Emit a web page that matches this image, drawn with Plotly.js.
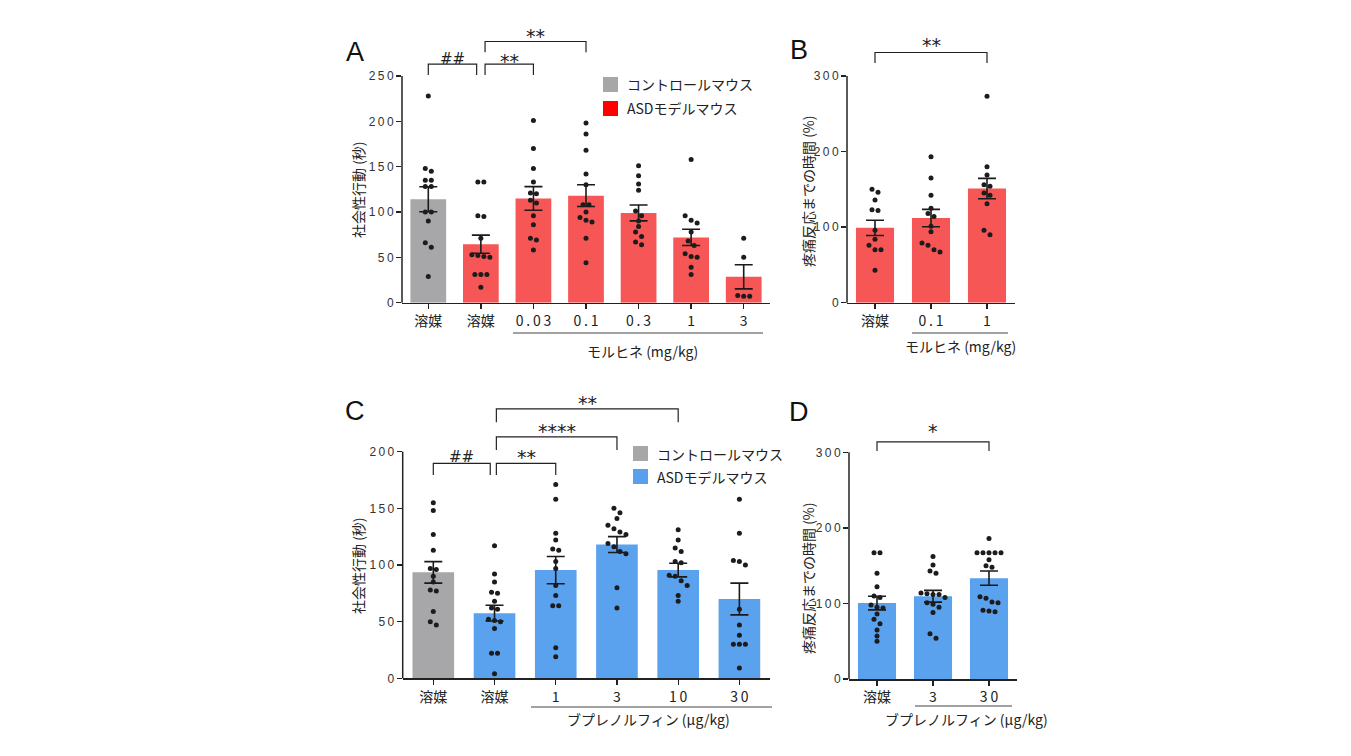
<!DOCTYPE html>
<html><head><meta charset="utf-8">
<script src="https://cdn.plot.ly/plotly-3.0.1.min.js"></script>
<style>body{margin:0;background:#fff}#chart{width:1351px;height:756px}</style>
</head><body><div id="chart"></div>
<script>
// ---------------- data ----------------
const A_labels = ['溶媒','溶媒','0.03','0.1','0.3','1','3'];
const A_mean = [114, 64.5, 115, 118, 99, 72, 28.5];
const A_sem = [13.8, 10, 13, 12, 8.8, 9, 13.3];
const A_points = [
  [228,148,145,135,135,128,128,100,100,90,66,61,29],
  [133,133,96,95,71,53,52,51,50,31,31,31,17],
  [201,170,148,133,121,120,113,110,96,86,71,69,58],
  [198,186,168,142,130,108,108,100,94,91,89,71,44],
  [151,140,131,124,101,96,90,84,78,73,67,64],
  [158,96,91,88,78,68,63,54,51,50,39,31],
  [71,50,8,7,7]
];
const B_labels = ['溶媒','0.1','1'];
const B_mean = [99, 112, 151];
const B_sem = [10, 11.5, 13.5];
const B_points = [
  [150,146,136,123,122,96,84,76,70,70,43],
  [193,165,142,125,118,114,101,94,79,76,70,67],
  [273,180,169,156,154,145,142,131,96,90]
];
const C_labels = ['溶媒','溶媒','1','3','10','30'];
const C_mean = [93.5, 57.5, 95.5, 118, 95.5, 70];
const C_sem = [9.5, 7, 12, 7, 6, 14];
const C_points = [
  [155,148,127,113,97,96,90,85,78,77,59,50,47],
  [117,92,85,76,75,68,62,61,52,51,50,44,22,22,4],
  [171,158,128,122,114,113,103,97,82,73,64,64,27,19],
  [150,146,141,135,132,129,127,119,116,112,110,80,62],
  [131,122,115,112,103,102,91,90,86,82,73,68],
  [158,128,104,103,100,61,47,38,30,30,30,9]
];
const D_labels = ['溶媒','3','30'];
const D_mean = [100.5, 109.5, 133.5];
const D_sem = [9, 7.8, 9.5];
const D_points = [
  [167,167,140,122,110,108,98,95,94,86,79,73,65,57,50],
  [162,151,143,140,114,113,112,112,108,101,99,95,88,60,54],
  [186,167,167,167,167,167,158,150,148,109,107,102,101,91,90,89]
];
// comparisons: [from, to, label]
const A_comp = [[0,1,'##'],[1,2,'**'],[1,3,'**']];
const B_comp = [[0,2,'**']];
const C_comp = [[0,1,'##'],[1,2,'**'],[1,3,'****'],[1,4,'**']];
const D_comp = [[0,2,'*']];
const A_yLabel = '社会性行動 (秒)', B_yLabel = '疼痛反応までの時間 (%)';
const C_yLabel = '社会性行動 (秒)', D_yLabel = '疼痛反応までの時間 (%)';
const A_dose = 'モルヒネ (mg/kg)', B_dose = 'モルヒネ (mg/kg)';
const C_dose = 'ブプレノルフィン (μg/kg)', D_dose = 'ブプレノルフィン (μg/kg)';
const legendLabels = ['コントロールマウス','ASDモデルマウス'];

// ---------------- styling / layout ----------------
const W = 1351, H = 756;
const GRAY = '#a7a7a9', RED = '#f75656', BLUE = '#5aa1ee';
const FONT = 'Liberation Sans, Arial, Noto Sans CJK JP, sans-serif';
const JFONT = 'Noto Sans CJK JP, Liberation Sans, sans-serif';
const px = v => v / W, py = v => 1 - v / H;
// spaced digits like the original typesetting
const spaced = s => /^[0-9.]+$/.test(String(s)) ? String(s).split('').join('\u2009') : s;

const panels = [
  {id:'', letter:'A', lab:A_labels, mean:A_mean, sem:A_sem, pts:A_points, comp:A_comp,
   color:RED, first:GRAY, xl:402, xr:770, y0:302.7, ytop:30.6, yr:300, ymax:250, step:50,
   brk:[[0,0.92,263,251,269],[1.08,2,263,251,267],[1.08,3,288,276,294]],
   ylab:A_yLabel, ylx:358, yly:190, dose:A_dose, dl:[513,763,333], dt:[642,351], lp:[355,52]},
  {id:'2', letter:'B', lab:B_labels, mean:B_mean, sem:B_sem, pts:B_points, comp:B_comp,
   color:RED, first:RED, xl:847, xr:1015, y0:302.7, ytop:30.6, yr:360, ymax:300, step:100,
   brk:[[0,2,331,317,341]],
   ylab:B_yLabel, ylx:808, yly:191, dose:B_dose, dl:[912,1008,333], dt:[960,346], lp:[799,50]},
  {id:'3', letter:'C', lab:C_labels, mean:C_mean, sem:C_sem, pts:C_points, comp:C_comp,
   color:BLUE, first:GRAY, xl:402.7, xr:770, y0:678.3, ytop:395, yr:250, ymax:200, step:50,
   brk:[[0,0.93,189.7,179.4,195],[1.03,2,189.7,179.4,195],[1.03,3,213,201.5,218.5],[1.03,4,237.7,226,243]],
   ylab:C_yLabel, ylx:358, yly:566, dose:C_dose, dl:[531,772,707], dt:[648,719], lp:[355,411]},
  {id:'4', letter:'D', lab:D_labels, mean:D_mean, sem:D_sem, pts:D_points, comp:D_comp,
   color:BLUE, first:BLUE, xl:849, xr:1017, y0:679, ytop:395.7, yr:375, ymax:300, step:100,
   brk:[[0,2,314,301.7,328]],
   ylab:D_yLabel, ylx:808, yly:578, dose:D_dose, dl:[915,1012,706], dt:[967,719], lp:[799,412]}
];

const traces = [], shapes = [], annotations = [];
const layout = {
  width: W, height: H, margin:{l:0,r:0,t:0,b:0},
  paper_bgcolor:'#fff', plot_bgcolor:'rgba(0,0,0,0)',
  showlegend:false, hovermode:false,
  font:{family:FONT, color:'#222'}
};
const txt = (o) => Object.assign({showarrow:false, xanchor:'center', yanchor:'middle'}, o);

panels.forEach(p => {
  const xa = 'x' + p.id, ya = 'y' + p.id;
  const n = p.lab.length;
  const idx = p.lab.map((_, i) => i);
  traces.push({
    type:'bar', x: idx, y: p.mean, xaxis: xa, yaxis: ya, width: 0.68,
    marker:{color: idx.map(i => i === 0 ? p.first : p.color), line:{width:0}},
    error_y:{type:'data', array:p.sem, visible:true, color:'#1a1a1a', thickness:1.6, width:9}
  });
  const pxPerUnit = (p.y0 - p.ytop) / p.yr;
  const thr = 5 / pxPerUnit;
  const step = 6 / ((p.xr - p.xl) / n);
  const dx = [], dy = [];
  p.pts.forEach((vals, ci) => {
    const s = vals.slice().sort((a, b) => b - a);
    let cl = [s[0]];
    const flush = () => {
      cl.forEach((v, k) => { dx.push(ci + (k - (cl.length - 1) / 2) * step); dy.push(v); });
    };
    for (let k = 1; k < s.length; k++) {
      if (cl[cl.length - 1] - s[k] < thr) cl.push(s[k]); else { flush(); cl = [s[k]]; }
    }
    flush();
  });
  traces.push({type:'scatter', mode:'markers', x:dx, y:dy, xaxis:xa, yaxis:ya,
    marker:{size:5, color:'#1c1c1c'}, cliponaxis:false});

  const tv = [];
  for (let v = 0; v <= p.ymax; v += p.step) tv.push(v);
  layout['xaxis' + p.id] = {
    domain:[px(p.xl), px(p.xr)], range:[-0.5, n - 0.5], anchor: ya,
    tickvals: idx, ticktext: p.lab.map(spaced), ticks:'outside', ticklen:5, tickwidth:1.3, tickcolor:'#222',
    showline:true, linecolor:'#222', linewidth:1.5, showgrid:false, zeroline:false,
    tickfont:{size:14, family:JFONT, color:'#222'}, fixedrange:true
  };
  layout['yaxis' + p.id] = {
    domain:[py(p.y0), py(p.ytop)], range:[0, p.yr], anchor: xa,
    tickvals: tv, ticktext: tv.map(spaced), ticks:'outside', ticklen:5, tickwidth:1.3, tickcolor:'#222',
    showline:false, showgrid:false, zeroline:false,
    tickfont:{size:12, family:FONT, color:'#333'}, fixedrange:true
  };
  shapes.push({type:'line', xref: xa + ' domain', yref: ya + ' domain',
    x0:0, x1:0, y0:0, y1:p.ymax / p.yr, line:{color:'#222', width:1.5}});
  p.comp.forEach((c, k) => {
    const b = p.brk[k];
    shapes.push({type:'path', xref: xa, yref: ya,
      path:`M${b[0]},${b[3]} L${b[0]},${b[2]} L${b[1]},${b[2]} L${b[1]},${b[3]}`,
      line:{color:'#222', width:1.2}});
    annotations.push(txt({xref: xa, yref: ya, x:(b[0] + b[1]) / 2, y:b[4], text:c[2],
      font:{size: c[2][0] === '#' ? 15 : 19, color:'#222', family:'DejaVu Sans, sans-serif'}}));
  });
  shapes.push({type:'line', xref:'paper', yref:'paper', x0:px(p.dl[0]), x1:px(p.dl[1]),
    y0:py(p.dl[2]), y1:py(p.dl[2]), line:{color:'#444', width:1}});
  annotations.push(txt({xref:'paper', yref:'paper', x:px(p.dt[0]), y:py(p.dt[1]), text:p.dose,
    font:{size:14, family:JFONT, color:'#222'}}));
  annotations.push(txt({xref:'paper', yref:'paper', x:px(p.ylx), y:py(p.yly), text:p.ylab,
    textangle:-90, font:{size:14, family:JFONT, color:'#222'}}));
  annotations.push(txt({xref:'paper', yref:'paper', x:px(p.lp[0]), y:py(p.lp[1]), text:p.letter,
    font:{size:27, family:'Liberation Sans, sans-serif', color:'#111'}}));
});

const legends = [
  {x:603, y:[77, 101], cols:[GRAY, '#ff0000']},
  {x:633, y:[446, 469], cols:[GRAY, '#5a9fec']}
];
legends.forEach(L => {
  L.y.forEach((yy, i) => {
    shapes.push({type:'rect', xref:'paper', yref:'paper', x0:px(L.x), x1:px(L.x + 15),
      y0:py(yy), y1:py(yy + 15), fillcolor:L.cols[i], line:{width:0}});
    annotations.push(txt({xref:'paper', yref:'paper', x:px(L.x + 22), y:py(yy + 7.5),
      text:legendLabels[i], xanchor:'left', font:{size:14, family:JFONT, color:'#222'}}));
  });
});

layout.shapes = shapes;
layout.annotations = annotations;
Plotly.newPlot('chart', traces, layout, {displayModeBar:false, staticPlot:true});
</script></body></html>
